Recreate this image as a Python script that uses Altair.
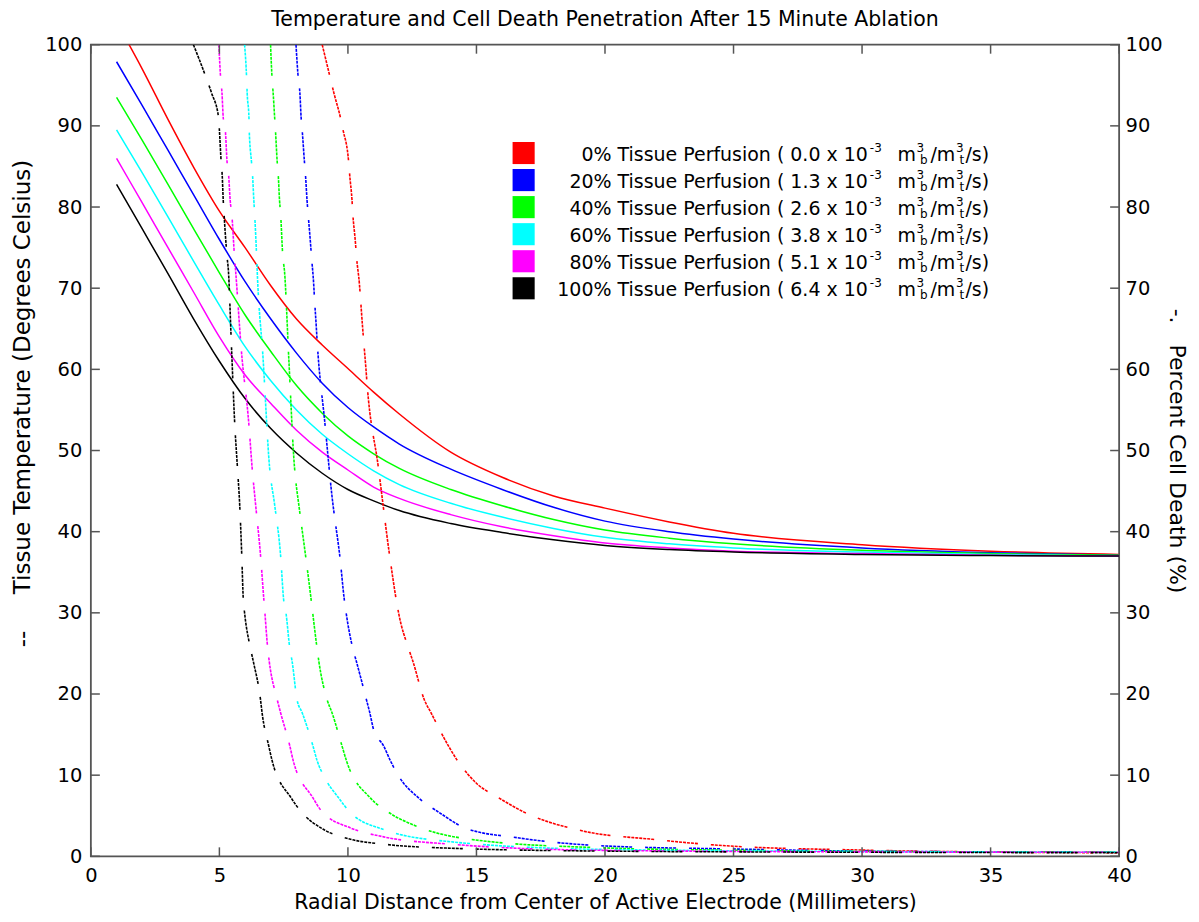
import altair as alt
import pandas as pd

FONT = "DejaVu Sans"
AXC = "#555555"
W, H = 1030, 813

series = ["0%", "20%", "40%", "60%", "80%", "100%"]
colors = ["#ff0000", "#0000ff", "#00ff00", "#00ffff", "#ff00ff", "#000000"]
rates = ["0.0", "1.3", "2.6", "3.8", "5.1", "6.4"]

x_ticks = [0, 5, 10, 15, 20, 25, 30, 35, 40]
y_ticks = [0, 10, 20, 30, 40, 50, 60, 70, 80, 90, 100]

# Tissue temperature (solid)
x_temp = [1, 2, 3, 4, 5, 6, 7, 8, 9, 10, 11, 12, 14, 16, 18, 20, 22.5, 25, 30, 35, 40]
temp_0 = [102.8, 97.0, 90.8, 84.9, 79.5, 75.0, 70.3, 66.2, 63.0, 60.1, 57.2, 54.5, 49.8, 46.7, 44.4, 42.9, 41.2, 39.8, 38.4, 37.6, 37.2]
temp_20 = [97.9, 92.5, 87.0, 81.5, 76.0, 70.8, 66.2, 62.0, 58.3, 55.3, 52.9, 50.8, 47.7, 45.2, 43.0, 41.3, 40.0, 39.1, 38.0, 37.4, 37.1]
temp_40 = [93.5, 88.2, 82.8, 77.3, 71.9, 66.7, 62.2, 58.0, 54.6, 51.8, 49.6, 47.8, 45.2, 43.2, 41.5, 40.2, 39.2, 38.5, 37.7, 37.3, 37.1]
temp_60 = [89.5, 84.2, 78.8, 73.3, 67.9, 62.8, 58.6, 55.0, 52.0, 49.6, 47.5, 45.8, 43.5, 41.8, 40.4, 39.3, 38.5, 38.0, 37.5, 37.2, 37.0]
temp_80 = [86.0, 80.5, 75.0, 69.5, 64.0, 59.3, 55.8, 52.5, 49.8, 47.6, 45.5, 44.1, 42.1, 40.6, 39.5, 38.6, 38.0, 37.6, 37.3, 37.1, 37.0]
temp_100 = [82.8, 77.3, 71.8, 66.2, 61.0, 56.4, 52.7, 49.7, 47.2, 45.2, 43.8, 42.6, 41.0, 39.9, 39.0, 38.3, 37.8, 37.5, 37.2, 37.05, 37.0]

# Percent cell death (dashed)
dx_0 = [9.0, 9.32, 9.45, 9.71, 9.81, 10.03, 10.07, 10.16, 10.19, 10.29, 10.33, 10.45, 10.49, 10.57, 10.61, 10.7, 10.74, 11.18, 11.62, 11.88, 11.97, 12.36, 12.53, 12.97, 13.23, 13.91, 14.26, 15.0, 15.87, 16.85, 19.17, 21.84, 24.87, 29.85, 35.0, 40.0]
dy_0 = [100, 95.8, 94.1, 91.0, 89.5, 85.5, 83.9, 80.8, 79.2, 75.7, 74.0, 70.4, 68.7, 65.2, 63.6, 60.1, 58.4, 48.0, 37.1, 31.6, 30.0, 25.6, 24.0, 19.3, 17.7, 13.6, 11.8, 9.0, 7.2, 5.45, 3.1, 2.1, 1.27, 0.78, 0.53, 0.45]
dx_20 = [7.98, 8.07, 8.13, 8.18, 8.22, 8.31, 8.35, 8.41, 8.45, 8.54, 8.58, 8.67, 8.7, 8.77, 8.8, 9.1, 9.42, 9.49, 9.68, 9.86, 9.93, 10.19, 10.33, 10.72, 10.85, 11.0, 11.39, 11.65, 11.97, 12.75, 13.55, 14.63, 16.57, 20.05, 25.0, 29.85, 40.0]
dy_20 = [100, 95.8, 94.1, 91.0, 89.5, 85.5, 83.9, 80.8, 79.2, 75.7, 74.0, 70.4, 68.7, 65.2, 63.6, 53.5, 43.3, 41.6, 37.1, 31.6, 30.0, 25.6, 24.0, 19.3, 17.7, 15.6, 13.6, 11.8, 9.9, 7.2, 5.4, 3.4, 2.3, 1.27, 0.9, 0.65, 0.5]
dx_40 = [6.99, 7.05, 7.09, 7.15, 7.18, 7.25, 7.29, 7.34, 7.38, 7.47, 7.53, 7.7, 7.92, 7.96, 8.09, 8.16, 8.35, 8.57, 8.63, 8.8, 8.87, 9.19, 9.38, 9.77, 9.94, 10.87, 11.59, 12.68, 15.27, 19.8, 25.0, 30.0, 40.0]
dy_40 = [100, 95.8, 94.1, 91.0, 89.5, 85.5, 83.9, 80.8, 79.2, 73.8, 72.2, 61.3, 48.0, 46.6, 43.3, 41.6, 37.1, 31.6, 30.0, 25.6, 24.0, 19.3, 17.7, 13.6, 11.8, 7.2, 5.4, 3.7, 1.9, 1.06, 0.75, 0.6, 0.5]
dx_60 = [5.98, 6.06, 6.08, 6.15, 6.16, 6.25, 6.29, 6.34, 6.37, 6.45, 6.47, 6.7, 6.95, 7.15, 7.38, 7.5, 7.59, 7.74, 7.83, 8.02, 8.22, 8.64, 8.8, 9.06, 9.64, 10.06, 11.39, 13.98, 19.8, 30.0, 40.0]
dy_60 = [100, 95.8, 94.1, 91.0, 89.5, 85.5, 83.9, 80.8, 79.2, 73.8, 72.2, 61.3, 48.0, 43.3, 37.1, 31.6, 30.0, 25.6, 24.0, 19.3, 17.7, 13.6, 11.8, 9.9, 7.2, 5.5, 3.3, 1.8, 0.86, 0.6, 0.5]
dx_80 = [4.98, 5.05, 5.1, 5.15, 5.23, 5.3, 5.36, 5.42, 5.48, 5.59, 5.63, 5.85, 6.15, 6.27, 6.41, 6.6, 6.73, 6.77, 6.88, 6.94, 7.25, 7.38, 7.74, 7.87, 8.64, 8.99, 10.1, 11.39, 13.98, 19.8, 30.0, 40.0]
dy_80 = [100, 95.8, 94.1, 91.0, 89.5, 85.5, 83.9, 80.8, 79.2, 73.8, 72.2, 62.5, 53.1, 48.0, 43.3, 37.1, 31.6, 30.0, 25.6, 24.0, 19.3, 17.7, 13.6, 11.8, 7.2, 5.5, 3.5, 2.4, 1.5, 0.74, 0.55, 0.5]
dx_100 = [3.99, 4.5, 4.69, 4.97, 5.0, 5.07, 5.11, 5.15, 5.18, 5.3, 5.35, 5.46, 5.6, 5.7, 5.79, 5.87, 5.93, 5.98, 6.21, 6.32, 6.6, 6.66, 6.92, 7.05, 7.79, 8.18, 9.06, 10.1, 11.39, 13.98, 19.8, 30.0, 40.0]
dy_100 = [100, 95.8, 94.1, 91.0, 89.5, 85.5, 83.9, 80.8, 79.2, 73.8, 72.2, 63.6, 53.1, 48.0, 43.3, 37.1, 31.6, 30.0, 25.6, 24.0, 19.3, 17.7, 13.6, 11.8, 7.2, 5.5, 3.3, 2.1, 1.5, 1.0, 0.65, 0.5, 0.45]

temps = [temp_0, temp_20, temp_40, temp_60, temp_80, temp_100]
deaths = [(dx_0, dy_0), (dx_20, dy_20), (dx_40, dy_40), (dx_60, dy_60), (dx_80, dy_80), (dx_100, dy_100)]

temp_rows = []
for s, t in zip(series, temps):
    for i, (xv, yv) in enumerate(zip(x_temp, t)):
        temp_rows.append({"series": s, "x": xv, "y": yv, "o": i})
death_rows = []
for s, (xs, ys) in zip(series, deaths):
    for i, (xv, yv) in enumerate(zip(xs, ys)):
        death_rows.append({"series": s, "x": xv, "y": yv, "o": i})
temp_df = pd.DataFrame(temp_rows)
death_df = pd.DataFrame(death_rows)

color_enc = alt.Color("series:N", scale=alt.Scale(domain=series, range=colors), legend=None)
xscale = alt.Scale(domain=[0, 40], nice=False, zero=False)
yscale = alt.Scale(domain=[0, 100], nice=False, zero=False)

XTITLE = "Radial Distance from Center of Active Electrode (Millimeters)"
xaxis = alt.Axis(values=x_ticks, title=XTITLE, labelFont=FONT, labelFontSize=19.5, labelColor="black",
                 titleFont=FONT, titleFontSize=20.5, titleFontWeight="normal", titleColor="black",
                 ticks=False, tickSize=0, domain=False, grid=False, labelPadding=10, titlePadding=8,
                 labelFlush=False)

def xenc(field="x"):
    return alt.X(f"{field}:Q", scale=xscale, axis=xaxis, title=XTITLE)

NB = "\u00a0"
left_axis = alt.Axis(values=y_ticks, orient="left", title="--" + NB * 5 + "Tissue Temperature (Degrees Celsius)",
                     labelFont=FONT, labelFontSize=19.5, labelColor="black", titleFont=FONT, titleFontSize=23,
                     titleFontWeight="normal", titleColor="black", ticks=False, tickSize=0, domain=False,
                     grid=False, labelPadding=9, titlePadding=10, titleY=359, labelFlush=False)
right_axis = alt.Axis(values=y_ticks, orient="right", title="-." + NB * 3 + "Percent Cell Death (%)",
                      labelFont=FONT, labelFontSize=19.5, labelColor="black", titleFont=FONT, titleFontSize=22,
                      titleFontWeight="normal", titleColor="black", ticks=False, tickSize=0, domain=False,
                      grid=False, labelPadding=6, titlePadding=2, labelFlush=False)

temp_layer = alt.Chart(temp_df).mark_line(strokeWidth=1.5, clip=True, interpolate="monotone").encode(
    x=xenc(), y=alt.Y("y:Q", scale=yscale, axis=left_axis), color=color_enc, order="o:Q", detail="series:N")

dash = [3, 1] * 7 + [3, 13]
death_layer = alt.Chart(death_df).mark_line(strokeWidth=1.6, strokeDash=dash, clip=True,
                                            interpolate="monotone").encode(
    x=xenc(), y=alt.Y("y:Q", scale=yscale, axis=right_axis), color=color_enc, order="o:Q", detail="series:N")

xt_df = pd.DataFrame({"x": x_ticks})
yt_df = pd.DataFrame({"v": y_ticks})
TL = 9
tick_top = alt.Chart(xt_df).mark_rule(color=AXC, strokeWidth=1.5).encode(x=xenc(), y=alt.value(0), y2=alt.value(TL))
tick_bot = alt.Chart(xt_df).mark_rule(color=AXC, strokeWidth=1.5).encode(x=xenc(), y=alt.value(H), y2=alt.value(H - TL))
tick_left = alt.Chart(yt_df).mark_rule(color=AXC, strokeWidth=1.5).encode(
    y=alt.Y("v:Q", scale=yscale, axis=None), x=alt.value(0), x2=alt.value(TL))
tick_right = alt.Chart(yt_df).mark_rule(color=AXC, strokeWidth=1.5).encode(
    y=alt.Y("v:Q", scale=yscale, axis=None), x=alt.value(W), x2=alt.value(W - TL))

# Legend (manual, with super/subscripts)
leg_df = pd.DataFrame({
    "row": list(range(6)),
    "series": series,
    "label": [f"{p} Tissue Perfusion ( {r} x 10" for p, r in zip(series, rates)],
})
ROW0, ROW5 = 108.5, 244.0
leg_y = alt.Y("row:Q", scale=alt.Scale(domain=[0, 5], range=[ROW0, ROW5], nice=False, zero=False), axis=None)
SQX = 433.5
TXX = 778.3
squares = alt.Chart(leg_df).mark_square(size=490, opacity=1).encode(x=alt.value(SQX), y=leg_y, color=color_enc)
main_txt = alt.Chart(leg_df).mark_text(align="right", baseline="alphabetic", dy=8, font=FONT, fontSize=19,
                                       color="black").encode(x=alt.value(TXX), y=leg_y, text="label:N")
pieces = [("-3", 2.0, -1, 12), ("m", 29.7, 8, 19), ("3", 48.7, -1, 12), ("b", 52.2, 11, 12),
          ("/m", 62.7, 8, 19), ("3", 88.2, -1, 12), ("t", 91.7, 11, 12), ("/s)", 97.7, 8, 19)]
piece_layers = []
for txt, ddx, ddy, fs in pieces:
    piece_layers.append(
        alt.Chart(leg_df).mark_text(align="left", baseline="alphabetic", dx=ddx, dy=ddy, font=FONT, fontSize=fs,
                                    color="black").encode(x=alt.value(TXX), y=leg_y, text=alt.value(txt)))

chart = alt.layer(
    temp_layer, death_layer, tick_top, tick_bot, tick_left, tick_right, squares, main_txt, *piece_layers
).resolve_scale(y="independent").properties(
    width=W, height=H,
    title=alt.TitleParams("Temperature and Cell Death Penetration After 15 Minute Ablation", font=FONT,
                          fontSize=20.5, fontWeight="normal", color="black", offset=4),
    padding={"left": 3, "top": 1, "right": 3, "bottom": 0},
).configure_view(stroke=AXC, strokeWidth=1.8)

chart.save("out.html", embed_options={"renderer": "svg", "actions": False})
